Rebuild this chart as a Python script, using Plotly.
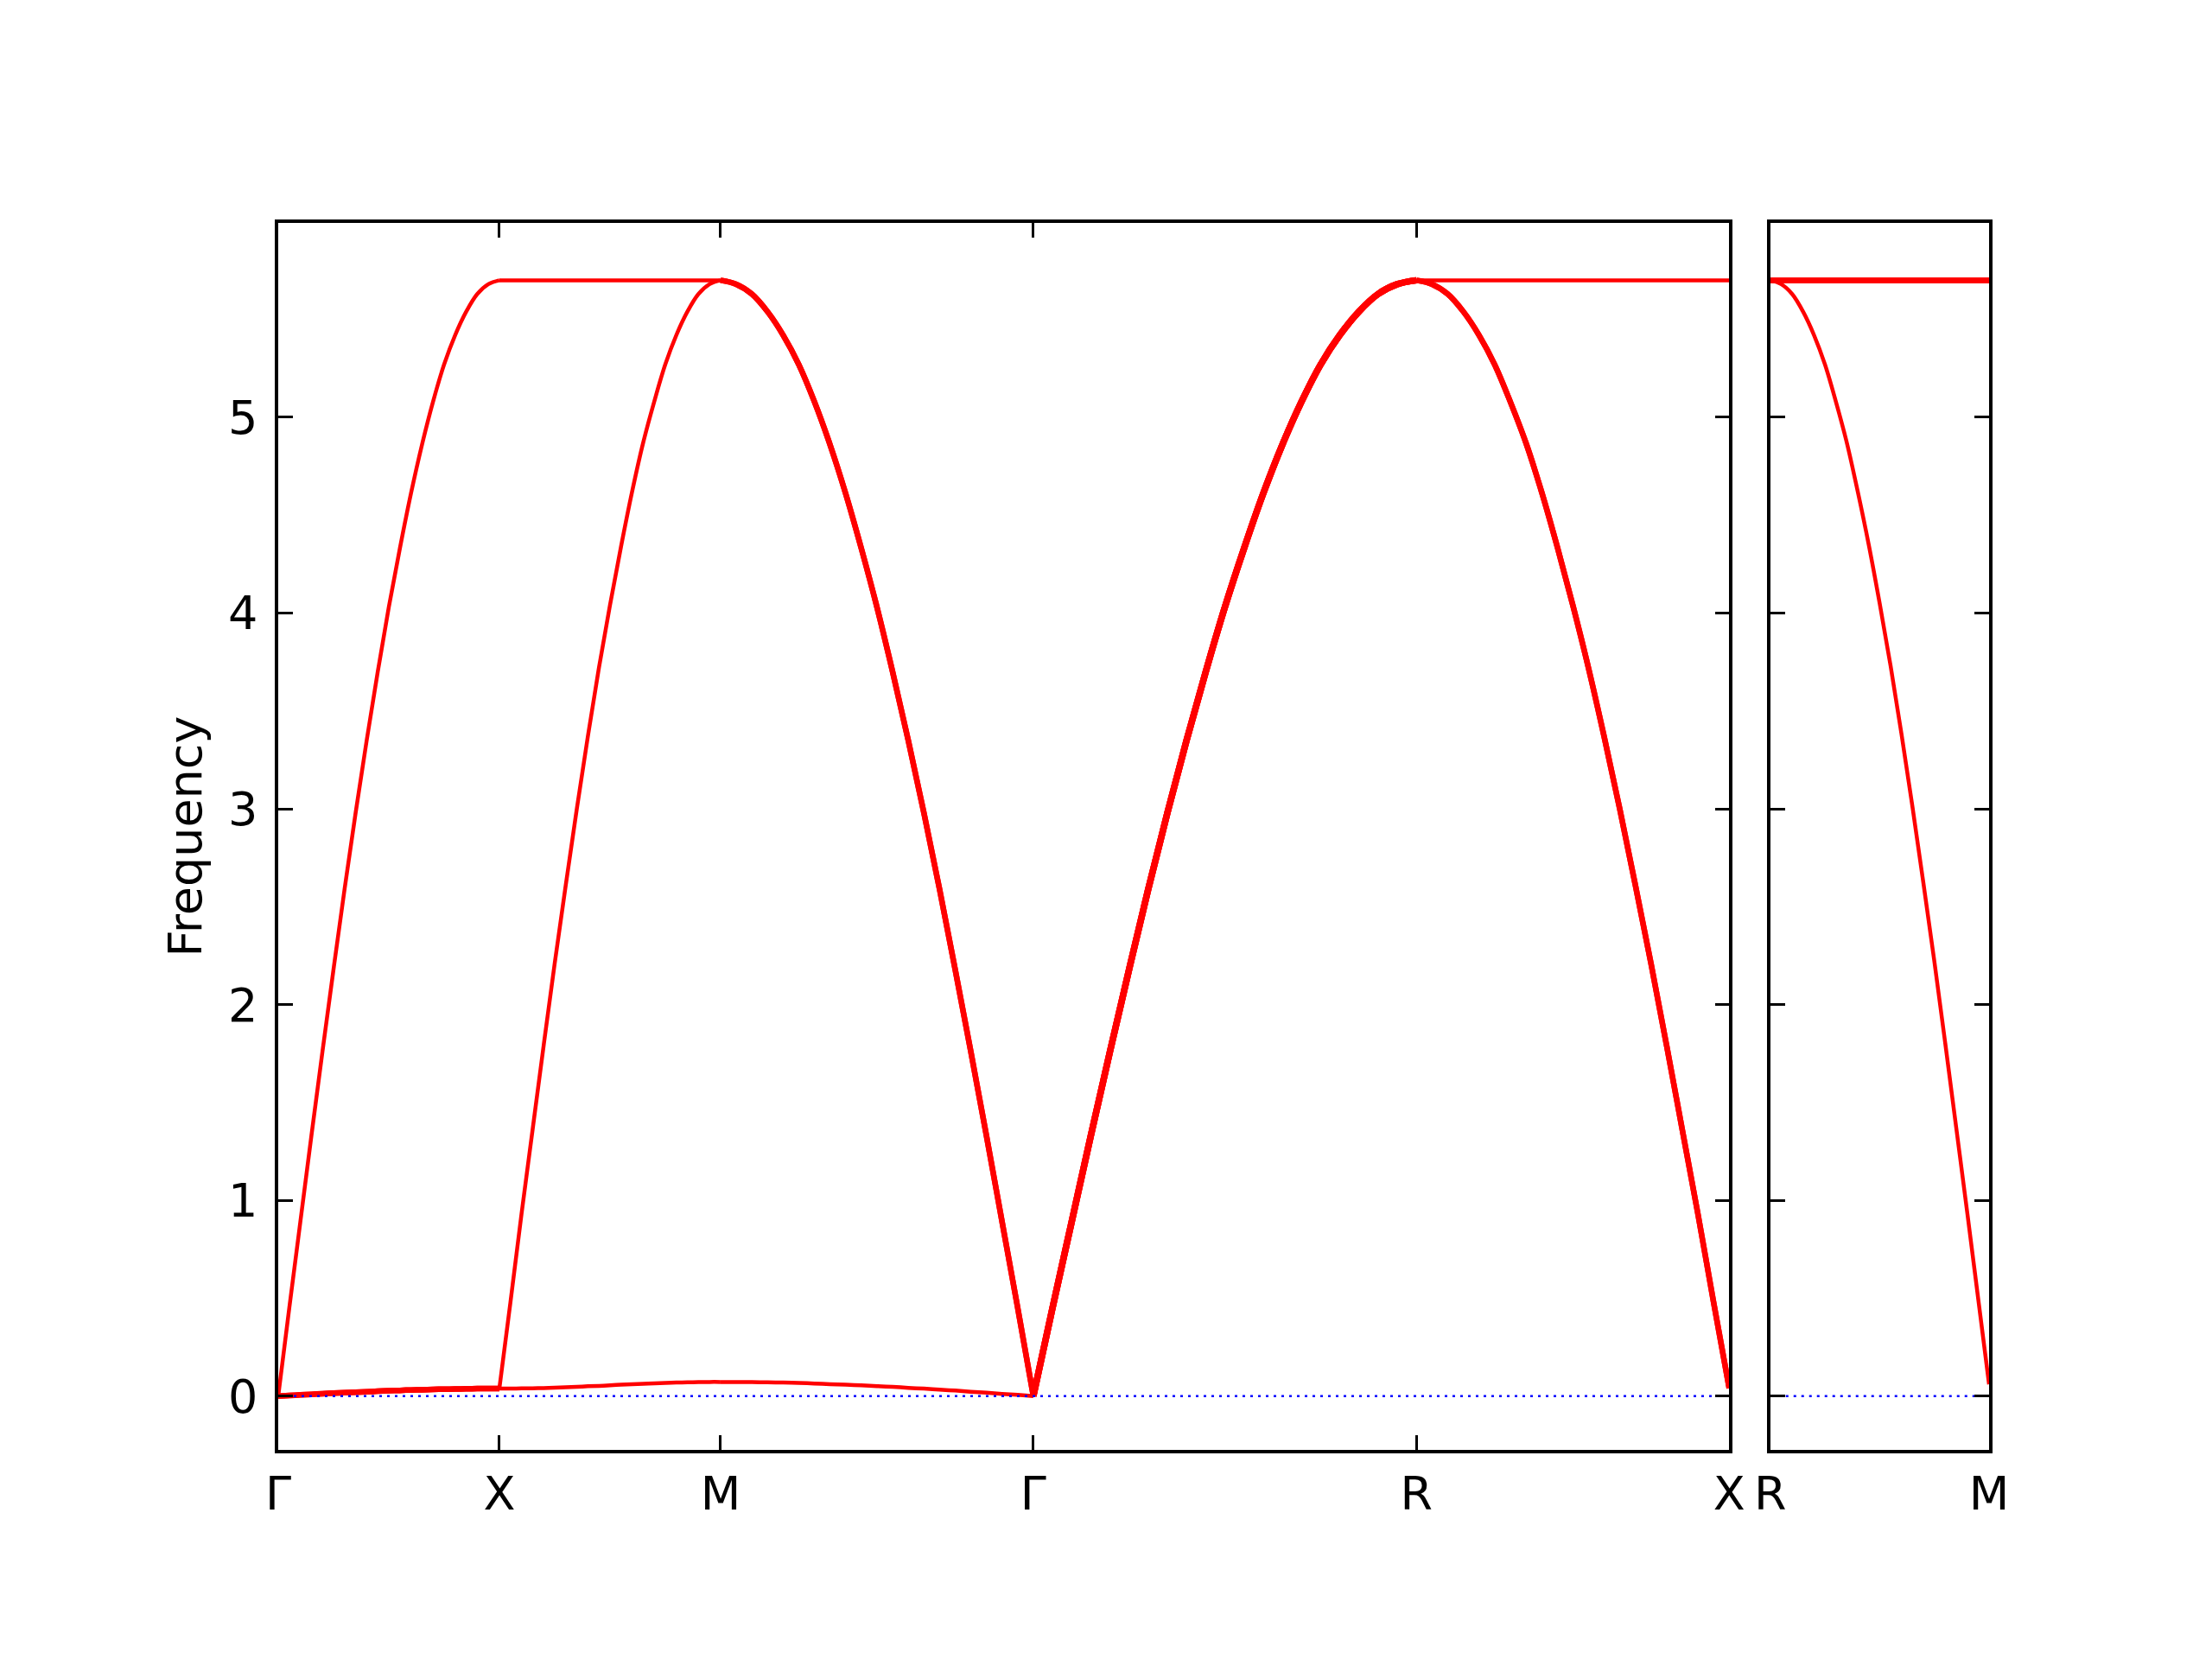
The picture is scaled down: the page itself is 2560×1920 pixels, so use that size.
import plotly.graph_objects as go

# ---------------- data ----------------
left_labels = ["Γ", "X", "M", "Γ", "R", "X"]
left_seg_lengths = [0.5, 0.5, 0.7071, 0.8660, 0.7071]
right_labels = ["R", "M"]
right_seg_lengths = [0.5]

# fractional position along each segment where values were read
t_frac = [0.00, 0.05, 0.10, 0.15, 0.20, 0.25, 0.30, 0.35, 0.40, 0.45, 0.50,
          0.55, 0.60, 0.65, 0.70, 0.75, 0.80, 0.85, 0.90, 0.95, 1.00]

# read band values (frequency) along each segment
rise_from_gamma = [0.00, 0.45, 0.89, 1.33, 1.76, 2.18, 2.59, 2.98, 3.35, 3.70, 4.03,
                   4.33, 4.61, 4.86, 5.08, 5.27, 5.42, 5.54, 5.63, 5.68, 5.70]
fall_to_gamma = [5.70, 5.68, 5.63, 5.54, 5.42, 5.27, 5.08, 4.86, 4.61, 4.33, 4.03,
                 3.70, 3.35, 2.98, 2.59, 2.18, 1.76, 1.33, 0.89, 0.45, 0.00]
rise_from_x = [0.04, 0.48, 0.93, 1.36, 1.79, 2.21, 2.61, 3.00, 3.37, 3.72, 4.04,
               4.34, 4.62, 4.87, 5.08, 5.27, 5.42, 5.54, 5.63, 5.68, 5.70]
fall_to_x = [5.70, 5.68, 5.63, 5.54, 5.42, 5.27, 5.08, 4.87, 4.62, 4.34, 4.04,
             3.72, 3.37, 3.00, 2.61, 2.21, 1.79, 1.36, 0.93, 0.48, 0.04]
fall_to_m = [5.70, 5.68, 5.63, 5.54, 5.42, 5.27, 5.08, 4.87, 4.62, 4.35, 4.05,
             3.73, 3.38, 3.01, 2.62, 2.22, 1.80, 1.37, 0.94, 0.50, 0.06]
flat_top = [5.70, 5.70, 5.70, 5.70, 5.70, 5.70, 5.70, 5.70, 5.70, 5.70, 5.70,
            5.70, 5.70, 5.70, 5.70, 5.70, 5.70, 5.70, 5.70, 5.70, 5.70]
low_gx = [0.000, 0.003, 0.006, 0.009, 0.012, 0.015, 0.017, 0.020, 0.022, 0.025, 0.027,
          0.029, 0.031, 0.032, 0.034, 0.035, 0.036, 0.037, 0.038, 0.038, 0.038]
low_xm = [0.038, 0.038, 0.039, 0.040, 0.041, 0.043, 0.045, 0.047, 0.050, 0.052, 0.055,
          0.058, 0.060, 0.063, 0.065, 0.067, 0.069, 0.070, 0.071, 0.072, 0.072]
low_mg = [0.072, 0.072, 0.071, 0.070, 0.069, 0.067, 0.064, 0.061, 0.058, 0.055, 0.051,
          0.047, 0.042, 0.038, 0.033, 0.028, 0.022, 0.017, 0.011, 0.006, 0.000]

zero_level = [0.0, 0.0]
y_ticks = [0, 1, 2, 3, 4, 5]

# bands per segment (3 branches each)
left_segments = [
    [rise_from_gamma, low_gx, low_gx],        # Γ -> X
    [flat_top, rise_from_x, low_xm],          # X -> M
    [fall_to_gamma, fall_to_gamma, low_mg],   # M -> Γ
    [rise_from_gamma, rise_from_gamma, rise_from_gamma],  # Γ -> R
    [flat_top, fall_to_x, fall_to_x],         # R -> X
]
right_segments = [
    [flat_top, flat_top, fall_to_m],          # R -> M
]

# ---------------- figure ----------------
RED = "#ff0000"
BLUE = "#0000ff"
FONT = "DejaVu Sans"

fig = go.Figure()


def add_panel(segments, lengths, xa, ya):
    starts = [0.0]
    for L in lengths:
        starts.append(starts[-1] + L)
    for s, bands in enumerate(segments):
        xs = [starts[s] + t * lengths[s] for t in t_frac]
        for b in bands:
            deg = sum(1 for o in bands if o is b)
            w = 4.5 if deg == 1 else (6.5 if deg == 2 else 7.5)
            fig.add_trace(go.Scatter(
                x=xs, y=b, mode="lines",
                line=dict(color=RED, width=w, shape="spline", smoothing=1.0),
                xaxis=xa, yaxis=ya, hoverinfo="skip", showlegend=False))
    fig.add_trace(go.Scatter(
        x=[0, starts[-1]], y=zero_level, mode="lines",
        line=dict(color=BLUE, width=2.5, dash="3px,6px"),
        xaxis=xa, yaxis=ya, hoverinfo="skip", showlegend=False))
    return starts


left_pos = add_panel(left_segments, left_seg_lengths, "x", "y")
right_pos = add_panel(right_segments, right_seg_lengths, "x2", "y2")

axis_common = dict(
    showline=True, linecolor="black", linewidth=3.5, mirror="ticks",
    ticks="inside", ticklen=17, tickwidth=3, tickcolor="black",
    showgrid=False, zeroline=False,
    tickfont=dict(family=FONT, size=54, color="black"),
)

W, H = 2560, 1920
ml, mr, mt, mb = 314, 266, 250, 250
pw = W - ml - mr
left_edge_px = 2003 - 8 - 1.75 - ml
right_start_px = 2047 - 8 + 1.75 - ml

fig.update_layout(
    width=W, height=H,
    margin=dict(l=ml, r=mr, t=mt, b=mb),
    paper_bgcolor="white", plot_bgcolor="white",
    showlegend=False,
    font=dict(family=FONT, size=54, color="black"),
    xaxis=dict(domain=[0, left_edge_px / pw], range=[0, left_pos[-1]],
               tickmode="array", tickvals=left_pos, ticktext=left_labels,
               ticklabelstandoff=0, **axis_common),
    xaxis2=dict(domain=[right_start_px / pw, 1], range=[0, right_pos[-1]],
                tickmode="array", tickvals=right_pos, ticktext=right_labels,
                anchor="y2", ticklabelstandoff=0, **axis_common),
    yaxis=dict(domain=[0, 1], range=[-0.275, 5.993], tickmode="array",
               tickvals=y_ticks, ticklabelstandoff=9,
               title=dict(text="Frequency", standoff=14,
                          font=dict(family=FONT, size=54, color="black")),
               **axis_common),
    yaxis2=dict(domain=[0, 1], range=[-0.275, 5.993], anchor="x2",
                tickmode="array", tickvals=y_ticks, showticklabels=False,
                **axis_common),
)

fig.write_html("out.html")
